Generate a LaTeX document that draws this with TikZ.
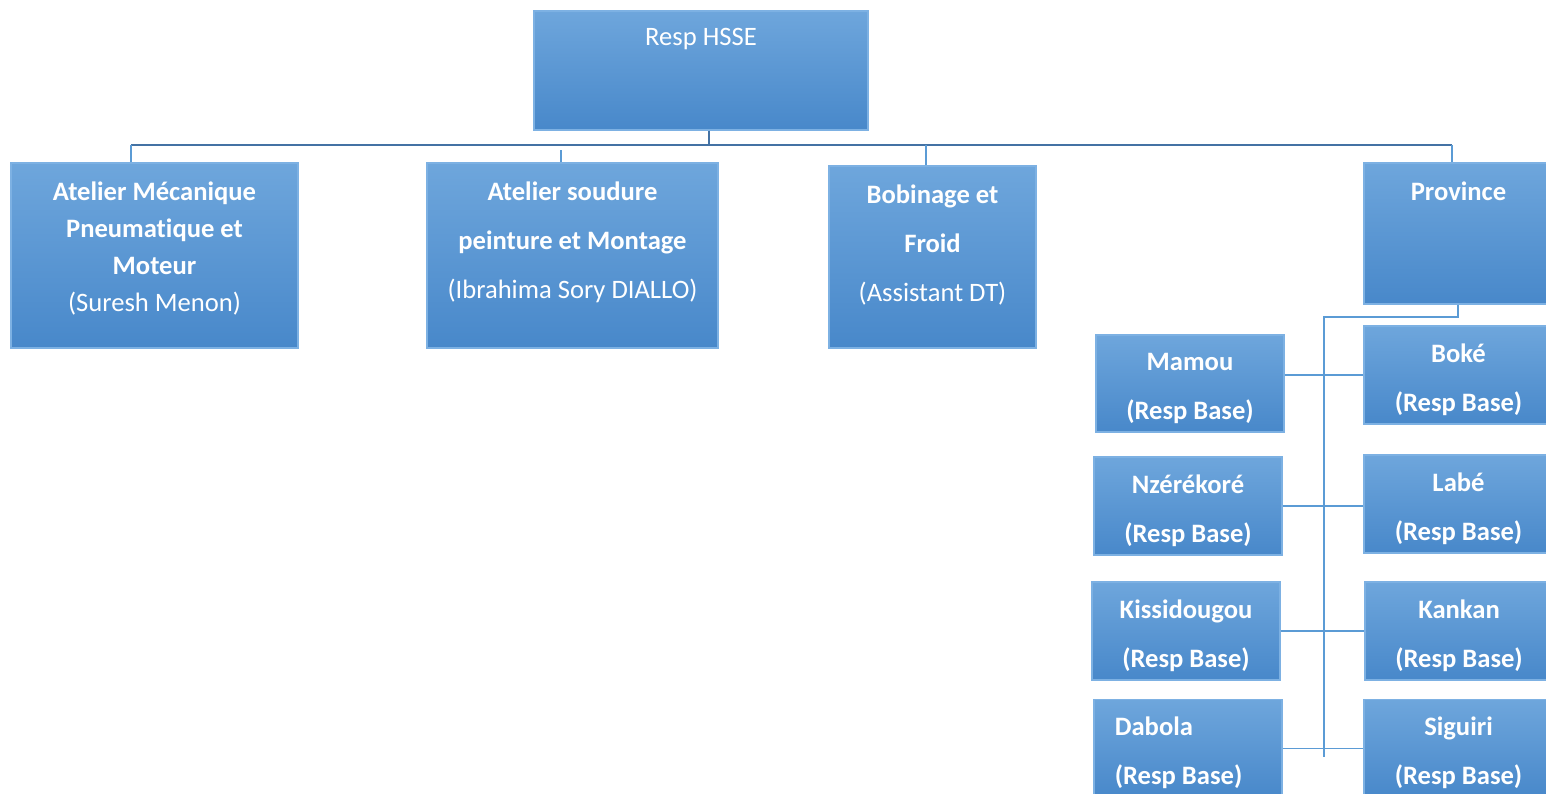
\documentclass[tikz,border=0pt]{standalone}
\usepackage{fontspec}
\setmainfont{Carlito}[Ligatures=NoCommon]
\usetikzlibrary{positioning}

\definecolor{boxtop}{HTML}{6EA6DC}
\definecolor{boxbot}{HTML}{4888CA}
\definecolor{boxline}{HTML}{7DB1E3}
\definecolor{busline}{HTML}{4472A4}
\definecolor{subline}{HTML}{5B9BD5}

\newcommand{\unitfont}{\fontsize{13.3}{24.5}\selectfont}

\tikzset{
  unit/.style={draw=boxline, line width=0.6pt, top color=boxtop, bottom color=boxbot,
    inner sep=0pt},
  caption/.style={text=white, inner sep=0pt, align=center, anchor=center, font=\unitfont\bfseries},
  basecap/.style={caption, yshift=-27pt},
  rightcap/.style={basecap, xshift=1.5pt},
  bus/.style={draw=busline, line width=1.3pt},
  drop/.style={draw=subline, line width=1.3pt},
  twig/.style={draw=subline, line width=0.6pt}
}

\begin{document}
\begin{tikzpicture}[x=0.5pt,y=-0.5pt]
\useasboundingbox (0,0) rectangle (1546,793);

% head
\node[unit, minimum width=167pt, minimum height=59.5pt,
  label={[caption, font=\unitfont, yshift=-14.5pt]north:Resp HSSE}] (hsse) at (701,70.5) {};

% first row
\node[unit, minimum width=143.5pt, minimum height=92.5pt,
  label={[caption, font=\fontsize{13.3}{18.5}\selectfont\bfseries, yshift=-43pt]north:Atelier Mécanique\\Pneumatique et\\Moteur\\\mdseries(Suresh Menon)}] (meca) at (154.5,255.5) {};
\node[unit, minimum width=145.5pt, minimum height=92.5pt,
  label={[caption, yshift=-39.75pt]north:Atelier soudure\\peinture et Montage\\\mdseries(Ibrahima Sory DIALLO)}] (soud) at (572.5,255.5) {};
\node[unit, minimum width=103.5pt, minimum height=91pt,
  label={[caption, yshift=-40pt]north:Bobinage et\\Froid\\\mdseries(Assistant DT)}] (bobi) at (932.5,257) {};
\node[unit, minimum width=91.5pt, minimum height=70.5pt,
  label={[caption, yshift=-14.5pt, xshift=1.5pt]north:Province}] (prov) at (1455.5,233.5) {};

% bases
\node[unit, minimum width=94pt, minimum height=48.5pt,
  label={[basecap]north:Mamou\\(Resp Base)}] (mamou) at (1190,383.5) {};
\node[unit, minimum width=91.5pt, minimum height=49pt,
  label={[rightcap]north:Boké\\(Resp Base)}] (boke) at (1455.5,375) {};
\node[unit, minimum width=94pt, minimum height=49pt,
  label={[basecap]north:Nzérékoré\\(Resp Base)}] (nzer) at (1188,506) {};
\node[unit, minimum width=91.5pt, minimum height=49pt,
  label={[rightcap]north:Labé\\(Resp Base)}] (labe) at (1455.5,504) {};
\node[unit, minimum width=94pt, minimum height=49pt,
  label={[basecap]north:Kissidougou\\(Resp Base)}] (kiss) at (1186,631) {};
\node[unit, minimum width=91pt, minimum height=49pt,
  label={[rightcap]north:Kankan\\(Resp Base)}] (kank) at (1456,631) {};
\node[unit, minimum width=94pt, minimum height=49pt,
  label={[basecap, align=left, anchor=west, xshift=10.5pt]north west:Dabola\\(Resp Base)}] (dabo) at (1188,748.5) {};
\node[unit, minimum width=91.5pt, minimum height=49pt,
  label={[rightcap]north:Siguiri\\(Resp Base)}] (sigu) at (1455.5,748.5) {};

% links
\coordinate (busL) at (131,145);
\coordinate (busR) at (1452,145);
\coordinate (busS) at (561,150);
\coordinate (tee) at (1324,317);
\coordinate (trunk) at (1324,757);

\draw[bus] (hsse.south -| 709,0) -- (709,145);
\draw[bus] (busL) -- (busR);
\draw[drop] (busL) -- (busL |- meca.north);
\draw[drop] (busS) -- (busS |- soud.north);
\draw[drop] (bobi.north -| 926,0) -- (926,145);
\draw[drop] (busR) -- (busR |- prov.north);

\draw[drop] (prov.south -| 1458,0) |- (tee) -- (trunk);
\draw[twig] (mamou.east |- boke.west) -- (boke.west);
\draw[twig] (nzer.east) -- (nzer.east -| labe.west);
\draw[twig] (kiss.east) -- (kank.west);
\draw[twig] (dabo.east) -- (sigu.west);
\end{tikzpicture}
\end{document}
